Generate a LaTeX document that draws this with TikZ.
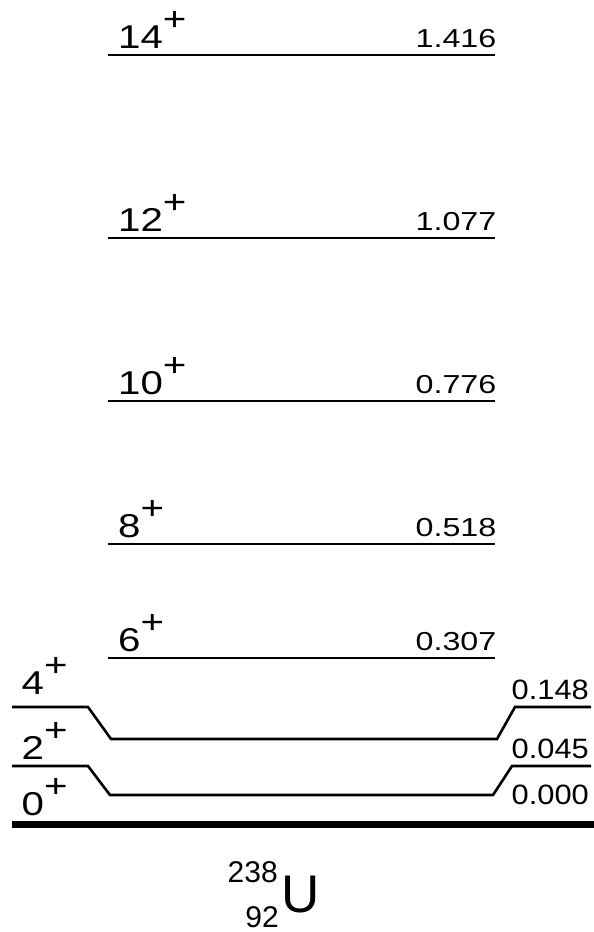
\documentclass[tikz,border=0pt]{standalone}
\usepackage{fontspec}
\setmainfont{Liberation Sans}
\newcommand{\sx}[1]{\scalebox{1.22}[1]{#1}}
\newcommand{\sxe}[1]{\scalebox{1.24}[1]{#1}}
\newcommand{\sxb}[1]{\scalebox{1.1}[1]{#1}}
\newcommand{\spinfont}{\fontsize{33}{33}\selectfont}
\newcommand{\enfont}{\fontsize{26}{26}\selectfont}
\newcommand{\enbfont}{\fontsize{28}{28}\selectfont}
\newcommand{\spinsup}[1]{#1\raisebox{18pt}{+}}
\begin{document}
\begin{tikzpicture}[x=1pt,y=-1pt,
  lvl/.style={line width=2.6pt},
  gnd/.style={line width=7pt},
  spin/.style={inner sep=0pt,font=\spinfont,anchor=base west},
  en/.style={inner sep=0pt,font=\enfont,anchor=base east},
  enb/.style={inner sep=0pt,font=\enbfont,anchor=base east},
  nuc/.style={inner sep=0pt,font=\fontsize{30}{30}\selectfont,anchor=base east}]
\useasboundingbox (0,0) rectangle (594,932);
% upper levels
\foreach \n/\y/\e in {14/55/1.416,12/238/1.077,10/401/0.776,8/544/0.518,6/658/0.307}{
  \coordinate (L\n a) at (108,\y);
  \coordinate (L\n b) at (495,\y);
  \draw[lvl] (L\n a) -- (L\n b);
  \node[spin] (S\n) at (118,\y-7) {\sx{\spinsup{\n}}};
  \node[en] (E\n) at (496.5,\y-7.5) {\sxe{\e}};
}
% 2+ level
\coordinate (A1) at (12,707);
\coordinate (A2) at (88,707);
\coordinate (A3) at (111,739);
\coordinate (A4) at (497,739);
\coordinate (A5) at (515,707);
\coordinate (A6) at (591,707);
\draw[lvl,line join=miter] (A1) -- (A2) -- (A3) -- (A4) -- (A5) -- (A6);
% 0+ level
\coordinate (B1) at (12,766);
\coordinate (B2) at (88,766);
\coordinate (B3) at (110,795);
\coordinate (B4) at (493,795);
\coordinate (B5) at (512,766);
\coordinate (B6) at (591,766);
\draw[lvl,line join=miter] (B1) -- (B2) -- (B3) -- (B4) -- (B5) -- (B6);
% ground
\coordinate (G1) at (12,824.5);
\coordinate (G2) at (594,824.5);
\draw[gnd] (G1) -- (G2);
% lower labels
\node[spin] (S4) at (21.5,694) {\sx{\spinsup{4}}};
\node[spin] (S2) at (21.5,759) {\sx{\spinsup{2}}};
\node[spin] (S0) at (21.5,815.5) {\sx{\spinsup{0}}};
\node[enb] (E4) at (589,699) {\sxb{0.148}};
\node[enb] (E2) at (589,758) {\sxb{0.045}};
\node[enb] (E0) at (589,804) {\sxb{0.000}};
% nucleus
\node[nuc] (mass) at (278,882) {238};
\node[nuc] (charge) at (279,927) {92};
\node[inner sep=0pt,anchor=base west,font=\fontsize{53}{53}\selectfont] (elem) at (281,912) {U};
\end{tikzpicture}
\end{document}
